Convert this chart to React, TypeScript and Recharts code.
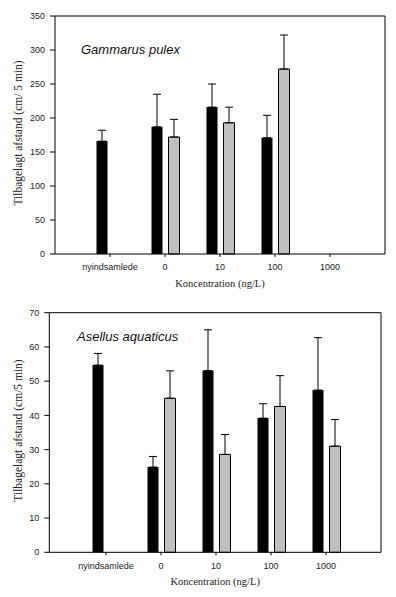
import { BarChart, Bar, XAxis, YAxis, ErrorBar, Label, CartesianGrid } from "recharts"

const categories = ["nyindsamlede", "0", "10", "100", "1000"]

// Gammarus pulex (cm / 5 min)
const gammarusBlack = [166, 187, 216, 171, null]
const gammarusBlackErr = [16, 48, 34, 33, null]
const gammarusGray = [null, 172, 193, 272, null]
const gammarusGrayErr = [null, 26, 23, 50, null]
const gammarusTicks = [0, 50, 100, 150, 200, 250, 300, 350]

// Asellus aquaticus (cm / 5 min)
const asellusBlack = [54.7, 24.9, 53.1, 39.2, 47.4]
const asellusBlackErr = [3.4, 3.1, 11.9, 4.2, 15.3]
const asellusGray = [null, 45.0, 28.6, 42.6, 31.0]
const asellusGrayErr = [null, 8.0, 5.8, 9.0, 7.8]
const asellusTicks = [0, 10, 20, 30, 40, 50, 60, 70]

const buildRows = (black, blackErr, gray, grayErr) =>
  categories.map((cat, i) => ({
    cat,
    black: black[i],
    blackErr: blackErr[i] == null ? null : [0, blackErr[i]],
    gray: gray[i],
    grayErr: grayErr[i] == null ? null : [0, grayErr[i]],
  }))

const tickStyle = { fontSize: 9, fill: "#222", fontFamily: "Liberation Sans, Arial, sans-serif" }
const serif = "Liberation Serif, Times New Roman, serif"

function Panel({ data, ticks, yLabel, width, height, margin, yWidth, xHeight, pad }) {
  const max = ticks[ticks.length - 1]
  return (
    <BarChart width={width} height={height} data={data} margin={margin} barGap={6}>
      {/* top and right frame lines of the plot box */}
      <CartesianGrid
        stroke="#000"
        strokeDasharray="0"
        horizontalCoordinatesGenerator={({ offset }) => [offset.top]}
        verticalCoordinatesGenerator={({ offset }) => [offset.left + offset.width]}
      />
      <XAxis
        dataKey="cat"
        interval={0}
        padding={pad}
        height={xHeight}
        tick={tickStyle}
        tickSize={3}
        tickMargin={7}
        axisLine={{ stroke: "#000" }}
        tickLine={{ stroke: "#000" }}
      >
        <Label
          content={({ viewBox }) => (
            <text
              x={viewBox.x + viewBox.width / 2}
              y={viewBox.y + 33}
              textAnchor="middle"
              fontSize={10.5}
              fontFamily={serif}
              fill="#222"
            >
              Koncentration (ng/L)
            </text>
          )}
        />
      </XAxis>
      <YAxis
        width={yWidth}
        domain={[0, max]}
        ticks={ticks}
        tick={tickStyle}
        tickSize={5}
        tickMargin={5}
        axisLine={{ stroke: "#000" }}
        tickLine={{ stroke: "#000" }}
      >
        <Label
          content={({ viewBox }) => {
            const cx = 18
            const cy = viewBox.y + viewBox.height / 2 - 2
            return (
              <text
                x={cx}
                y={cy}
                transform={`rotate(-90 ${cx} ${cy})`}
                textAnchor="middle"
                dominantBaseline="central"
                fontSize={11.5}
                fontFamily={serif}
                fill="#222"
              >
                {yLabel}
              </text>
            )
          }}
        />
      </YAxis>
      <Bar dataKey="black" fill="#000" barSize={11} isAnimationActive={false}>
        <ErrorBar dataKey="blackErr" direction="y" width={4} stroke="#000" strokeWidth={1} isAnimationActive={false} />
      </Bar>
      <Bar dataKey="gray" fill="#c0c0c0" stroke="#000" strokeWidth={1} barSize={11} isAnimationActive={false}>
        <ErrorBar dataKey="grayErr" direction="y" width={4} stroke="#000" strokeWidth={1} isAnimationActive={false} />
      </Bar>
    </BarChart>
  )
}

const species = { position: "absolute", fontSize: 13, lineHeight: "13px", fontStyle: "italic", fontFamily: "Liberation Sans, Arial, sans-serif", color: "#111" } as const

export default function App() {
  const top = buildRows(gammarusBlack, gammarusBlackErr, gammarusGray, gammarusGrayErr)
  const bottom = buildRows(asellusBlack, asellusBlackErr, asellusGray, asellusGrayErr)
  return (
    <div style={{ position: "absolute", left: 0, top: 0, width: 396, height: 597, background: "#fff" }}>
      <div style={{ position: "absolute", left: 0, top: 0 }}>
        <Panel
          data={top}
          ticks={gammarusTicks}
          yLabel="Tilbagelagt afstand (cm/ 5 min)"
          width={396}
          height={300}
          margin={{ top: 16, right: 11, bottom: 0, left: 0 }}
          yWidth={55}
          xHeight={46}
          pad={{ left: 27.5, right: 27.5 }}
        />
      </div>
      <div style={{ position: "absolute", left: 0, top: 300 }}>
        <Panel
          data={bottom}
          ticks={asellusTicks}
          yLabel="Tilbagelagt afstand (cm/5 min)"
          width={396}
          height={297}
          margin={{ top: 12.7, right: 15, bottom: 0, left: 0 }}
          yWidth={49.3}
          xHeight={44.7}
          pad={{ left: 29.2, right: 27.5 }}
        />
      </div>
      <div style={{ ...species, left: 81, top: 43 }}>Gammarus pulex</div>
      <div style={{ ...species, left: 77, top: 330 }}>Asellus aquaticus</div>
    </div>
  )
}
